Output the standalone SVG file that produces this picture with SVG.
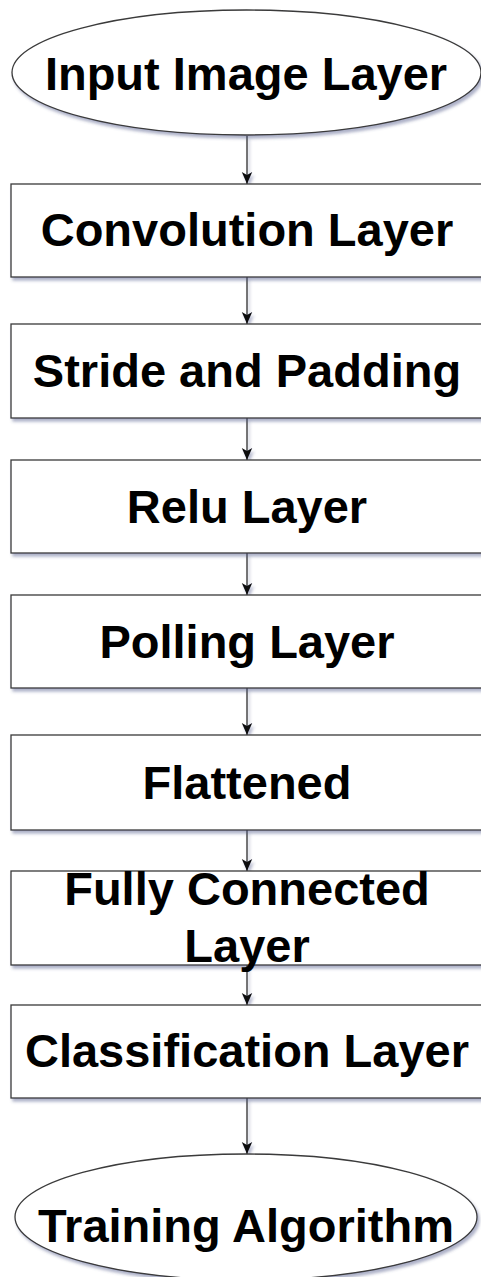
<svg xmlns="http://www.w3.org/2000/svg" width="481" height="1277" viewBox="0 0 481 1277">
  <style>
    .shape { fill: #ffffff; stroke: #3a3a3a; stroke-width: 1.3; }
    .label { font-family: "Liberation Sans", Arial, sans-serif; font-weight: bold; font-size: 47px; fill: #000000; text-anchor: middle; }
    .edge { stroke: #2e2e2e; stroke-width: 1.3; fill: none; marker-end: url(#arrow); }
  </style>
  <defs>
    <filter id="shadow" x="-10%" y="-10%" width="120%" height="130%">
      <feDropShadow dx="2" dy="3" stdDeviation="1.6" flood-color="#4a5285" flood-opacity="0.45"/>
    </filter>
    <!-- lines have a zero-width box, so their shadow region is set in user space -->
    <filter id="edge-shadow" filterUnits="userSpaceOnUse" x="0" y="0" width="481" height="1277">
      <feDropShadow dx="2" dy="3" stdDeviation="1.4" flood-color="#4a5285" flood-opacity="0.4"/>
    </filter>
    <marker id="arrow" viewBox="0 0 12 12" refX="12" refY="6" markerWidth="12" markerHeight="12" markerUnits="userSpaceOnUse" orient="auto">
      <path d="M0,0.8 L12,6 L0,11.2 L3,6 Z" fill="#111111"/>
    </marker>
  </defs>

  <rect width="481" height="1277" fill="#ffffff"/>

  <!-- connectors -->
  <g id="connectors" filter="url(#edge-shadow)">
    <line class="edge" x1="247" y1="136" x2="247" y2="184"/>
    <line class="edge" x1="247" y1="277" x2="247" y2="324"/>
    <line class="edge" x1="247" y1="418" x2="247" y2="460"/>
    <line class="edge" x1="247" y1="553" x2="247" y2="595"/>
    <line class="edge" x1="247" y1="688" x2="247" y2="735"/>
    <line class="edge" x1="247" y1="830" x2="247" y2="871"/>
    <line class="edge" x1="247" y1="965" x2="247" y2="1005"/>
    <line class="edge" x1="247" y1="1098" x2="247" y2="1154"/>
  </g>

  <!-- nodes -->
  <g id="input-image-layer">
    <ellipse class="shape" cx="246.5" cy="72.5" rx="234.5" ry="62.5" filter="url(#shadow)"/>
    <text class="label" x="246" y="90">Input Image Layer</text>
  </g>
  <g id="convolution-layer">
    <rect class="shape" x="11" y="184" width="472" height="93" filter="url(#shadow)"/>
    <text class="label" x="247" y="246">Convolution Layer</text>
  </g>
  <g id="stride-and-padding">
    <rect class="shape" x="11" y="324" width="472" height="94" filter="url(#shadow)"/>
    <text class="label" x="247" y="387">Stride and Padding</text>
  </g>
  <g id="relu-layer">
    <rect class="shape" x="11" y="460" width="472" height="93" filter="url(#shadow)"/>
    <text class="label" x="247" y="523">Relu Layer</text>
  </g>
  <g id="polling-layer">
    <rect class="shape" x="11" y="595" width="472" height="93" filter="url(#shadow)"/>
    <text class="label" x="247" y="658">Polling Layer</text>
  </g>
  <g id="flattened">
    <rect class="shape" x="11" y="735" width="472" height="95" filter="url(#shadow)"/>
    <text class="label" x="247" y="799">Flattened</text>
  </g>
  <g id="fully-connected-layer">
    <rect class="shape" x="11" y="871" width="472" height="94" filter="url(#shadow)"/>
    <text class="label" x="247" y="905">Fully Connected</text>
    <text class="label" x="247" y="962">Layer</text>
  </g>
  <g id="classification-layer">
    <rect class="shape" x="11" y="1005" width="472" height="93" filter="url(#shadow)"/>
    <text class="label" x="247" y="1067">Classification Layer</text>
  </g>
  <g id="training-algorithm">
    <ellipse class="shape" cx="246" cy="1217" rx="231" ry="63" filter="url(#shadow)"/>
    <text class="label" x="246" y="1242">Training Algorithm</text>
  </g>
</svg>
